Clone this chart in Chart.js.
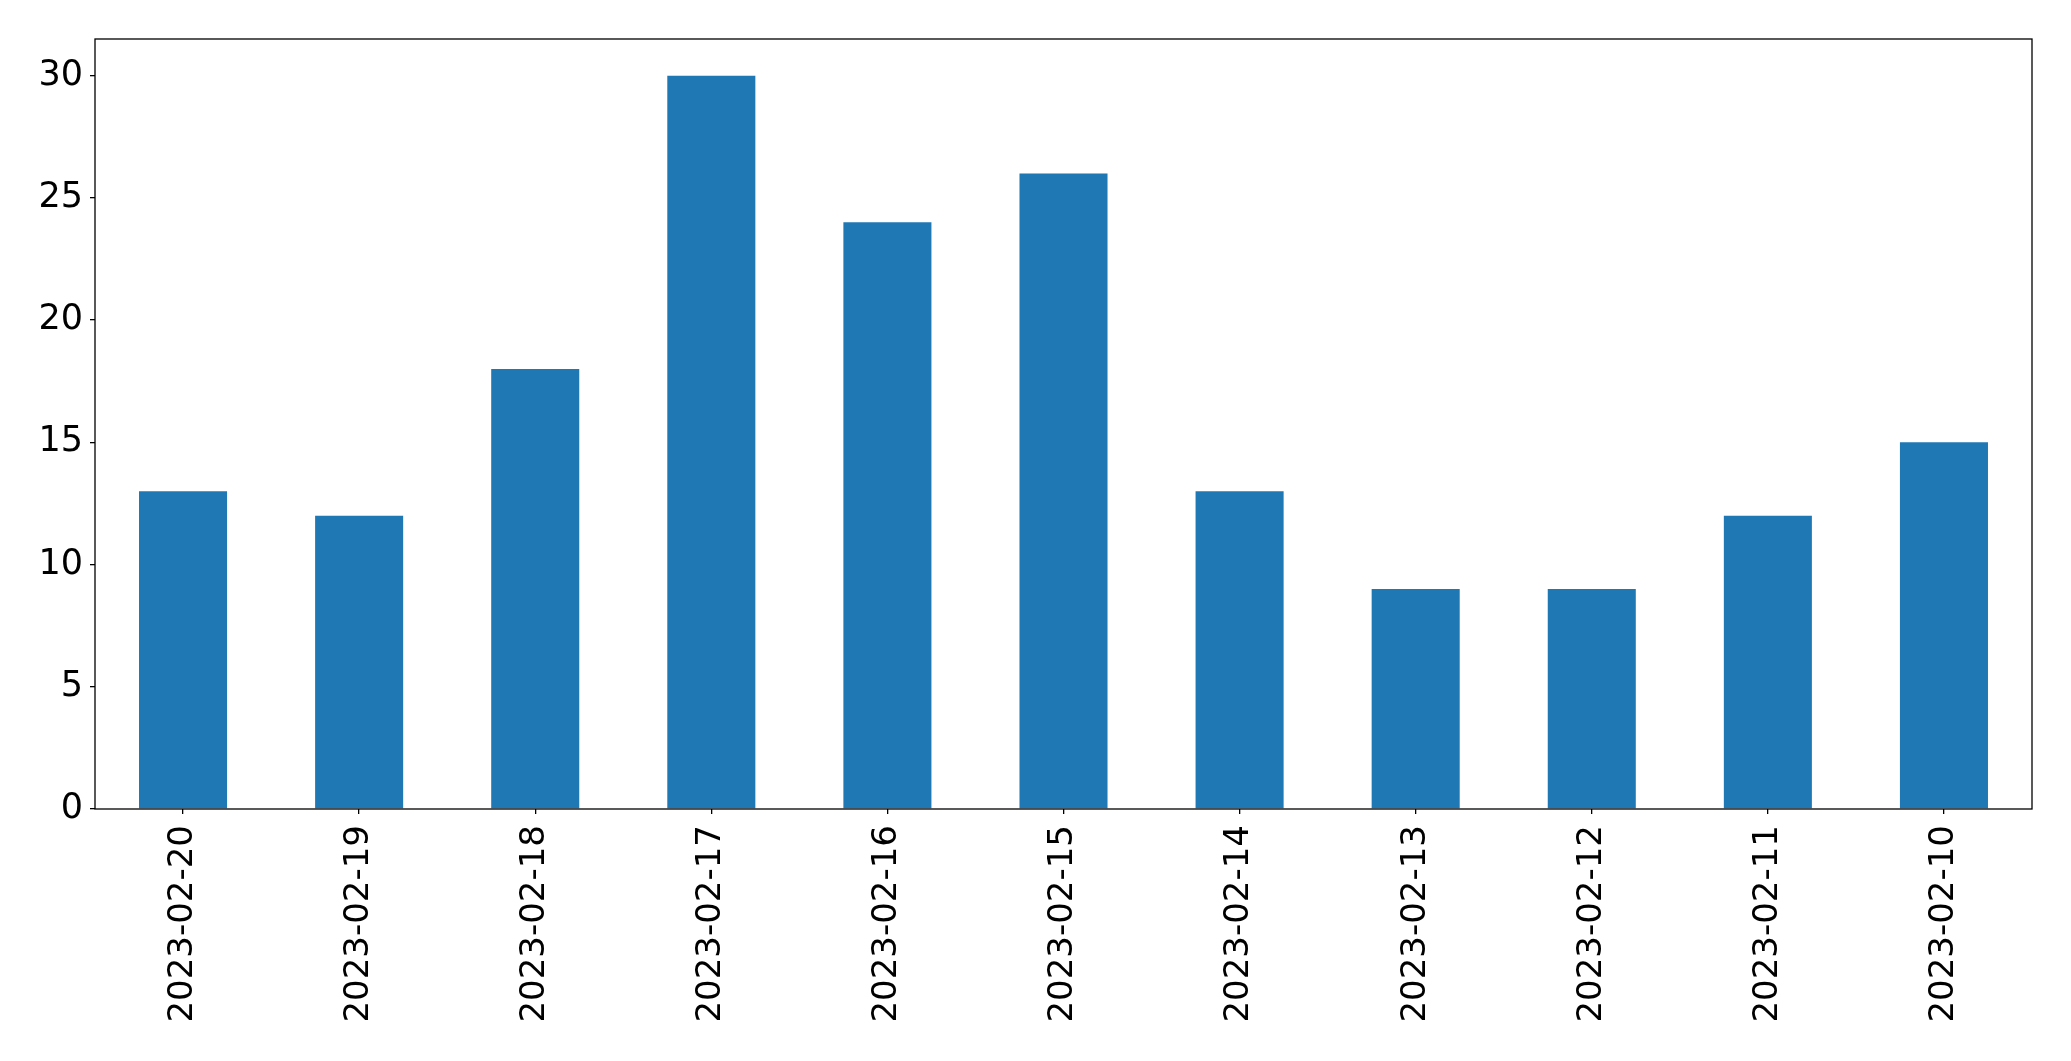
<!DOCTYPE html>
<html>
<head>
<meta charset="utf-8">
<script src="https://cdn.jsdelivr.net/npm/chart.js@4"></script>
<style>
  html, body { margin: 0; padding: 0; background: #fff; }
  #wrap { width: 2071px; height: 1061px; position: relative; }
</style>
</head>
<body>
<div id="wrap"><canvas id="c" width="2071" height="1061"></canvas></div>
<script>
const categories = ["2023-02-20","2023-02-19","2023-02-18","2023-02-17","2023-02-16","2023-02-15","2023-02-14","2023-02-13","2023-02-12","2023-02-11","2023-02-10"];
const values = [13, 12, 18, 30, 24, 26, 13, 9, 9, 12, 15];
const yTicks = [0, 5, 10, 15, 20, 25, 30];

const frame = {
  id: 'frame',
  afterDraw(chart) {
    const a = chart.chartArea, ctx = chart.ctx;
    ctx.save();
    ctx.strokeStyle = '#000';
    ctx.lineWidth = 1.3;
    ctx.strokeRect(a.left, a.top, a.right - a.left, a.bottom - a.top);
    ctx.restore();
  }
};

new Chart(document.getElementById('c'), {
  type: 'bar',
  data: {
    labels: categories,
    datasets: [{ data: values, backgroundColor: '#1f77b4', barPercentage: 0.5, categoryPercentage: 1.0 }]
  },
  options: {
    responsive: false,
    animation: false,
    devicePixelRatio: 1,
    layout: { padding: { left: 0, top: 39, right: 39, bottom: 0 } },
    plugins: { legend: { display: false }, tooltip: { enabled: false } },
    scales: {
      x: {
        grid: { display: true, offset: false, drawOnChartArea: false, tickLength: 5, color: '#000', lineWidth: 1.3 },
        border: { display: false },
        ticks: { color: '#000', font: { family: 'DejaVu Sans', size: 34 }, maxRotation: 90, minRotation: 90, padding: 11, autoSkip: false },
        afterFit(s) { s.height = 252; }
      },
      y: {
        min: 0, max: 31.5,
        afterBuildTicks(s) { s.ticks = yTicks.map(v => ({ value: v })); },
        grid: { display: true, drawOnChartArea: false, tickLength: 5, color: '#000', lineWidth: 1.3 },
        border: { display: false },
        ticks: { color: '#000', font: { family: 'DejaVu Sans', size: 35 }, padding: 7 },
        afterFit(s) { s.width = 95; }
      }
    }
  },
  plugins: [frame]
});
</script>
</body>
</html>
